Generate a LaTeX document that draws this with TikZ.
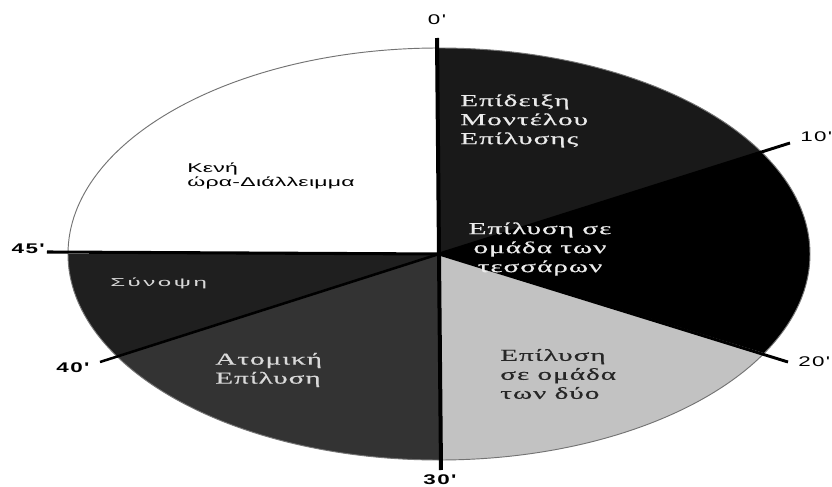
\documentclass[tikz,border=0pt]{standalone}
\usepackage{fontspec}
\newfontfamily\pieserif[FakeStretch=1.75,LetterSpace=6,FakeBold=0.6]{Liberation Serif}
\newfontfamily\piesans[FakeStretch=1.8,LetterSpace=2]{Liberation Sans}
\newfontfamily\piesanswide[FakeStretch=2.1,LetterSpace=22]{Liberation Sans}
\newfontfamily\piesansmin[FakeStretch=1.6,LetterSpace=10]{Liberation Sans}
\begin{document}
\begin{tikzpicture}[x=0.75pt,y=0.75pt,
  serifw/.style={font=\pieserif\fontsize{12.5}{14.25}\selectfont,text=white!92!black,inner sep=0pt,align=left},
  serifd/.style={font=\pieserif\fontsize{12.5}{14.25}\selectfont,text=black!85,inner sep=0pt,align=left},
  sanslbl/.style={font=\piesans\fontsize{9.6}{10.3}\selectfont,inner sep=0pt,align=left},
  minute/.style={font=\piesansmin\fontsize{10.5}{12}\selectfont,inner sep=0pt},
  minuteb/.style={font=\piesansmin\bfseries\fontsize{10.5}{12}\selectfont,inner sep=0pt},
  radial/.style={line width=2.2pt,black},
  pie/.style={x radius=371,y radius=206},
]
\useasboundingbox (-439,-232) rectangle (393,254);
\fill[white] (-439,-232) rectangle (393,254);

% sectors of the 45-minute lesson (parametric angles on the ellipse)
\fill[black!90] (0,0) -- (90:371 and 206) arc[pie,start angle=90,end angle=29.8] -- cycle;
\fill[black] (0,0) -- (29.8:371 and 206) arc[pie,start angle=29.8,end angle=-28.8] -- cycle;
\fill[black!24] (0,0) -- (-28.8:371 and 206) arc[pie,start angle=-28.8,end angle=-90] -- cycle;
\fill[black!80] (0,0) -- (-90:371 and 206) arc[pie,start angle=-90,end angle=-150.3] -- cycle;
\fill[black!88] (0,0) -- (-150.3:371 and 206) arc[pie,start angle=-150.3,end angle=-180] -- cycle;
\draw[black!55,line width=0.7pt] (0,0) ellipse[pie];

% radial boundaries and minute marks
\coordinate (c) at (0,0);
\coordinate (m0) at (-2,216);
\coordinate (m10) at (351,111);
\coordinate (m20) at (349,-108);
\coordinate (m30) at (2,-216);
\coordinate (m40) at (-339,-108);
\coordinate (m45) at (-392,2);
\draw[line width=3pt] (c) -- (m0);
\draw[line width=3pt] (c) -- (m30);
\draw[radial] (c) -- (m10);
\draw[radial] (c) -- (m20);
\draw[line width=1.9pt] (c) -- (m40);
\draw[line width=2.3pt] (c) -- (m45);

\node[minute] (l0) at (-2,234) {0'};
\node[minute,anchor=west] (l10) at (361,117) {10'};
\node[minute,anchor=west] (l20) at (359,-108) {20'};
\node[minuteb] (l30) at (1,-226) {30'};
\node[minuteb] (l40) at (-366,-114) {40'};
\node[minuteb,anchor=east] (l45) at (-394,5) {45'};

% sector captions
\node[serifw,anchor=west] (demo) at (21,133) {Επίδειξη\\Μοντέλου\\Επίλυσης};
\node[serifw,align=center] (four) at (101,5) {Επίλυση σε\\ομάδα των\\τεσσάρων};
\node[serifd,anchor=west] (two) at (61,-120) {Επίλυση\\σε ομάδα\\των δύο};
\node[serifw,anchor=west,text=white!85!black] (solo) at (-224,-116) {Ατομική\\Επίλυση};
\node[sanslbl,anchor=west,text=white!85!black,font=\piesanswide\fontsize{8.6}{10}\selectfont] (sum) at (-329,-29) {Σύνοψη};
\node[sanslbl,anchor=west,text=black] (gap) at (-252,78) {Κενή\\ώρα-Διάλλειμμα};
\end{tikzpicture}
\end{document}
